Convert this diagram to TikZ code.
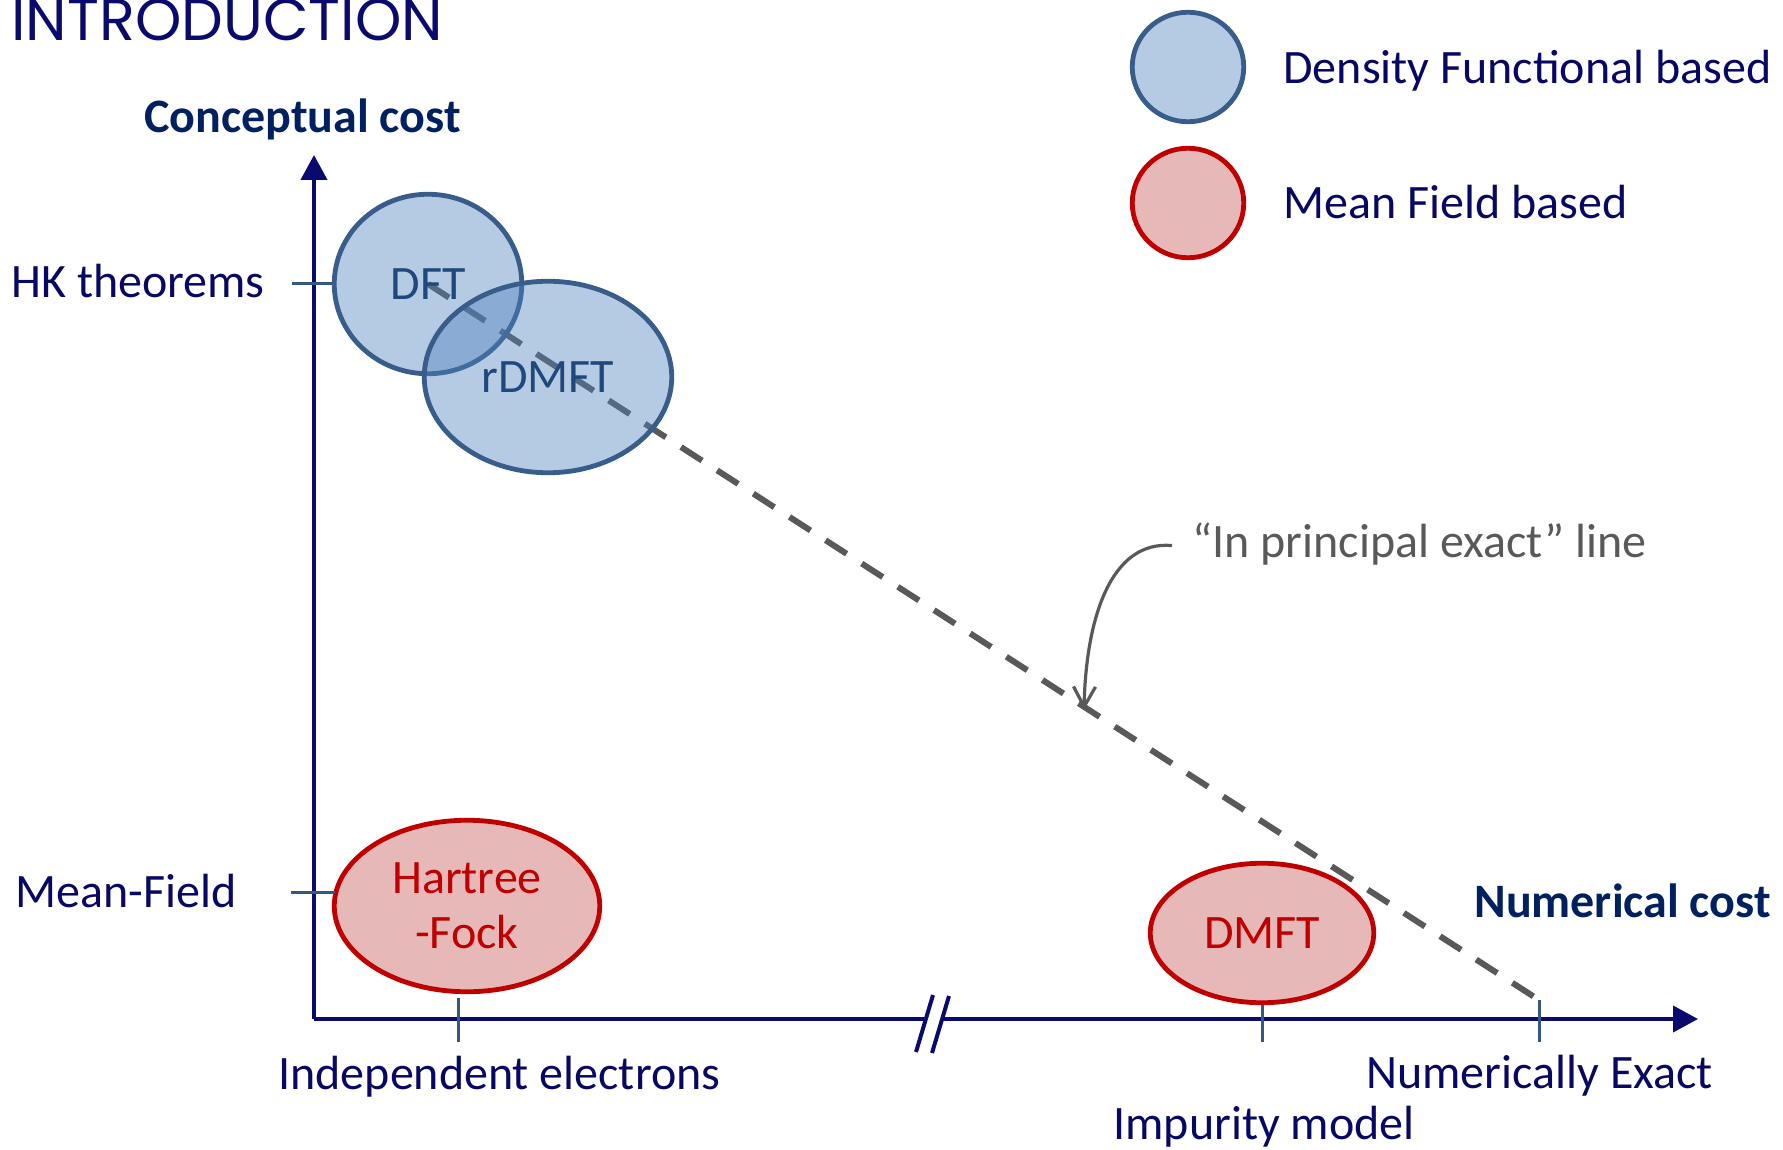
\documentclass[tikz,border=0pt]{standalone}
\usepackage{fontspec}
\setmainfont{Carlito}
\newfontfamily\titlefont{Poppins}
\usetikzlibrary{shapes.geometric,arrows.meta}
\pgfdeclarelayer{back}
\pgfdeclarelayer{mid}
\pgfsetlayers{back,mid,main}

\definecolor{axisnavy}{RGB}{10,10,110}
\definecolor{labelnavy}{RGB}{8,8,100}
\definecolor{boldnavy}{RGB}{0,32,96}
\definecolor{tickblue}{RGB}{52,88,130}
\definecolor{dfline}{RGB}{56,93,138}
\definecolor{dffill}{RGB}{79,129,189}
\definecolor{dftext}{RGB}{31,73,125}
\definecolor{mfline}{RGB}{192,0,0}
\definecolor{mffill}{RGB}{230,185,184}
\definecolor{notegray}{RGB}{89,89,89}

\tikzset{
  lbl/.style={anchor=base west, inner sep=0pt, text=labelnavy, font=\fontsize{24}{29}\selectfont},
  boldlbl/.style={lbl, text=boldnavy, font=\fontsize{24}{29}\selectfont\bfseries},
  dfblob/.style={ellipse, draw=dfline, line width=2.4pt, fill=dffill, fill opacity=0.42,
    text opacity=1, text=dftext, inner sep=0pt, font=\fontsize{24}{29}\selectfont},
  mfblob/.style={ellipse, draw=mfline, line width=2.4pt, fill=mffill,
    text=mfline, inner sep=0pt, align=center, font=\fontsize{24}{27.5}\selectfont},
  axisline/.style={draw=axisnavy, line width=2pt},
  axisarrow/.style={axisline, -{Triangle[length=12.5pt, width=13pt]}},
  tickline/.style={draw=tickblue, line width=1.5pt},
  exactline/.style={draw=notegray, line width=3pt, dash pattern=on 12.5pt off 9pt},
  noteline/.style={draw=notegray, line width=1.6pt, -{Straight Barb[length=10pt, width=11pt, line width=1.6pt]}}
}

\begin{document}
\begin{tikzpicture}[x=0.5pt, y=-0.5pt]
\useasboundingbox (0,0) rectangle (1783,1150);
\clip (0,0) rectangle (1783,1150);

% heading
\node[anchor=base west, inner sep=0pt, text=axisnavy, font=\fontsize{29.5}{34}\selectfont] (title) at (11,41) {\titlefont INTRODUCTION};

% axes
\coordinate (O) at (314,1019);
\coordinate (ytop) at (314,155);
\coordinate (brkL) at (924,1019);
\coordinate (brkR) at (941,1019);
\coordinate (xend) at (1698,1019);
\draw[axisarrow] (O) -- (ytop);
\draw[axisline] (O) -- (brkL);
\draw[axisarrow] (brkR) -- (xend);
% axis break marks
\coordinate (s1a) at (916,1052);
\coordinate (s1b) at (933,995);
\coordinate (s2a) at (932,1053);
\coordinate (s2b) at (949,996);
\draw[axisline] (s1a) -- (s1b);
\draw[axisline] (s2a) -- (s2b);

% axis titles
\node[boldlbl] (ytitle) at (144,133) {Conceptual cost};
\node[boldlbl] (xtitle) at (1474,917) {Numerical cost};

% mean-field based methods
\begin{pgfonlayer}{back}
\node[mfblob, minimum width=132.75pt, minimum height=85.75pt] (hf) at (467,906) {Hartree\\-Fock};
\node[mfblob, minimum width=111.75pt, minimum height=69.75pt] (dmft) at (1262,933) {DMFT};
\end{pgfonlayer}

% density functional based methods
\node[dfblob, minimum width=93.75pt, minimum height=89.75pt] (dft) at (428,284) {DFT};
\node[dfblob, minimum width=123.75pt, minimum height=95.75pt] (rdmft) at (548,377) {rDMFT};

% ticks on the conceptual axis
\coordinate (hkL) at (292,284);
\coordinate (mfL) at (291,892);
\coordinate (mfR) at (335,892);
\draw[tickline] (hkL) -- (dft.west);
\draw[tickline] (mfL) -- (mfR);
\node[lbl] (hk) at (11,298) {HK theorems};
\node[lbl] (mf) at (15,907) {Mean-Field};

% ticks on the numerical axis
\coordinate (ieT) at (458,998);
\coordinate (ieB) at (458,1042);
\coordinate (imB) at (1263,1042);
\coordinate (neT) at (1539,1000);
\coordinate (neB) at (1539,1042);
\draw[tickline] (ieT) -- (ieB);
\draw[tickline] (dmft.south) -- (dmft.south |- imB);
\draw[tickline] (neT) -- (neB);
\node[lbl] (ie) at (278,1089) {Independent electrons};
\node[lbl] (im) at (1113,1139) {Impurity model};
\node[lbl] (ne) at (1366,1088) {Numerically Exact};

% "in principle exact" line
\begin{pgfonlayer}{mid}
\draw[exactline] (dft.center) -- (neT);
\end{pgfonlayer}
\node[lbl, text=notegray] (note) at (1192,557) {“In principal exact” line};
\coordinate (hit) at (1084,710);
\draw[noteline] ([xshift=-10pt, yshift=-1pt]note.west) .. controls (1110,540) and (1086,620) .. (hit);

% legend
\node[dfblob, minimum width=55.75pt, minimum height=54.75pt] (legdf) at (1188,67) {};
\node[mfblob, minimum width=55.75pt, minimum height=54.75pt] (legmf) at (1188,203) {};
\node[lbl] (legdftext) at (1283,84) {Density Functional based};
\node[lbl] (legmftext) at (1283,219) {Mean Field based};
\end{tikzpicture}
\end{document}
